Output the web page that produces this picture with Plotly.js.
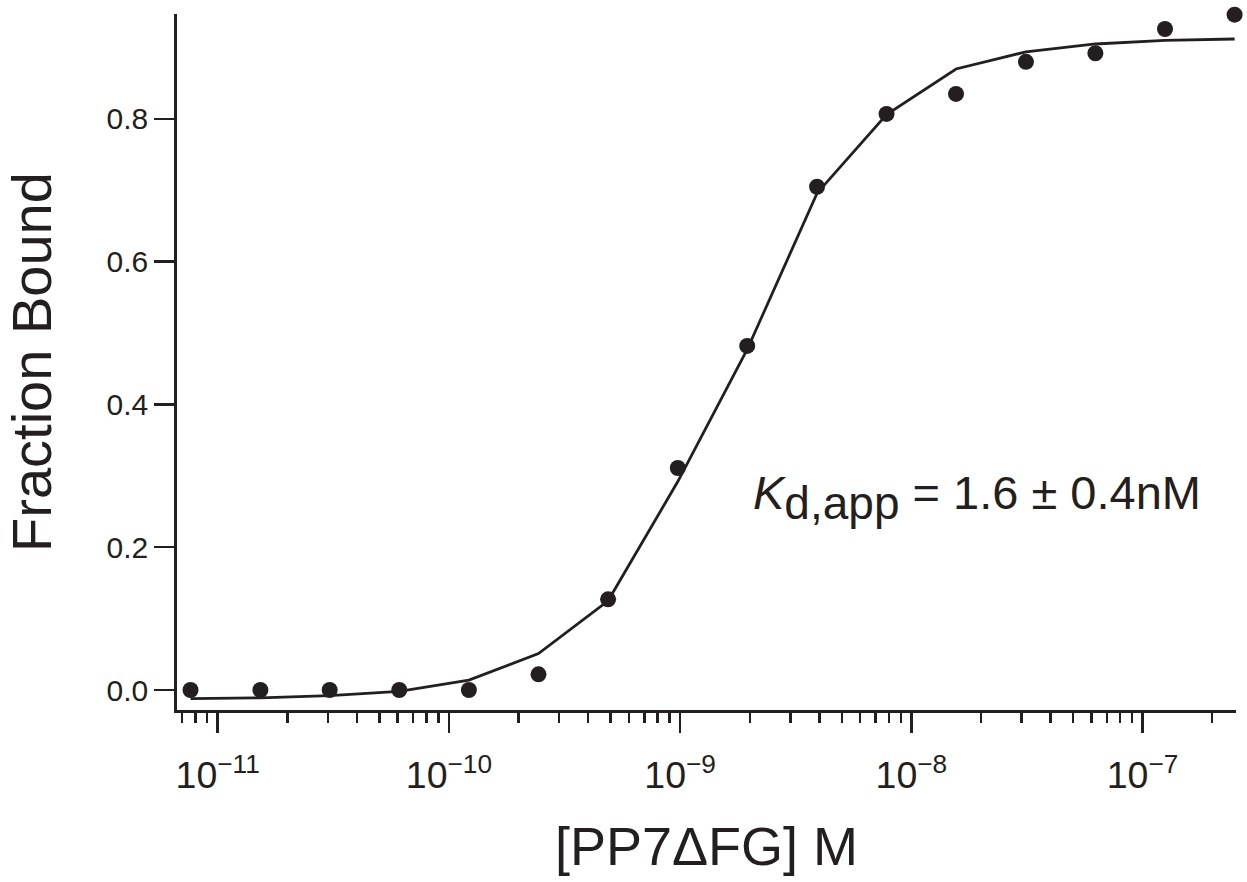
<!DOCTYPE html>
<html>
<head>
<meta charset="utf-8">
<script src="https://cdn.plot.ly/plotly-3.0.1.min.js"></script>
<style>html,body{margin:0;padding:0;background:#fff;}#chart{width:1247px;height:882px;}</style>
</head>
<body>
<div id="chart"></div>
<script>
// Concentrations of PP7ΔFG (M), two-fold dilution series
const concentration = [7.63e-12, 1.53e-11, 3.05e-11, 6.10e-11, 1.22e-10, 2.44e-10, 4.88e-10, 9.77e-10,
                       1.95e-9, 3.91e-9, 7.81e-9, 1.56e-8, 3.13e-8, 6.25e-8, 1.25e-7, 2.50e-7];
// Measured fraction bound
const fractionBound = [0.000, 0.000, 0.000, 0.000, 0.000, 0.022, 0.127, 0.311,
                       0.482, 0.705, 0.807, 0.835, 0.880, 0.892, 0.926, 0.946];
// Fitted binding curve evaluated at the same concentrations
const fitValues = [-0.012, -0.011, -0.008, -0.002, 0.014, 0.051, 0.125, 0.292,
                   0.477, 0.696, 0.806, 0.870, 0.894, 0.905, 0.910, 0.912];
const yTickVals = [0, 0.2, 0.4, 0.6, 0.8];
const yTickText = ['0.0', '0.2', '0.4', '0.6', '0.8'];

const ink = '#231f20';
const font = 'Liberation Sans, Arial, Helvetica, sans-serif';

const traces = [
  {
    x: concentration, y: fitValues, type: 'scatter', mode: 'lines',
    line: {color: ink, width: 2.8}, cliponaxis: false, hoverinfo: 'skip', name: 'fit'
  },
  {
    x: concentration, y: fractionBound, type: 'scatter', mode: 'markers',
    marker: {color: ink, size: 16, line: {width: 0}}, cliponaxis: false, name: 'data'
  }
];

const layout = {
  width: 1247, height: 882,
  paper_bgcolor: '#fff', plot_bgcolor: '#fff',
  showlegend: false,
  margin: {l: 177, r: 11, t: 14, b: 172},
  font: {family: font, color: ink},
  xaxis: {
    type: 'log',
    range: [-11.176, -6.596],
    showgrid: false, zeroline: false,
    showline: true, linecolor: ink, linewidth: 2.8,
    ticks: 'outside', ticklen: 20, tickwidth: 2.5, tickcolor: ink,
    dtick: 1, exponentformat: 'power',
    tickfont: {family: font, size: 30, color: ink},
    ticklabelstandoff: 12,
    minor: {ticks: 'outside', ticklen: 10, tickwidth: 2.5, tickcolor: ink, dtick: 'D1', showgrid: false},
    title: {text: '[PP7ΔFG] M', font: {family: font, size: 54, color: ink}, standoff: 32}
  },
  yaxis: {
    range: [-0.028, 0.947],
    showgrid: false, zeroline: false,
    showline: true, linecolor: ink, linewidth: 2.8,
    ticks: 'outside', ticklen: 20, tickwidth: 2.5, tickcolor: ink,
    tickvals: yTickVals, ticktext: yTickText,
    tickfont: {family: font, size: 30, color: ink},
    title: {text: 'Fraction Bound', font: {family: font, size: 56, color: ink}, standoff: 38}
  },
  annotations: [
    {
      xref: 'x', yref: 'y', x: -8.695, y: 0.27,
      xanchor: 'left', yanchor: 'middle', showarrow: false,
      text: '<i>K</i><sub><span style="font-size:46px">d,app</span></sub> = 1.6 ± 0.4nM',
      font: {family: font, size: 47, color: ink}
    }
  ]
};

Plotly.newPlot('chart', traces, layout, {displayModeBar: false, staticPlot: true});
</script>
</body>
</html>
